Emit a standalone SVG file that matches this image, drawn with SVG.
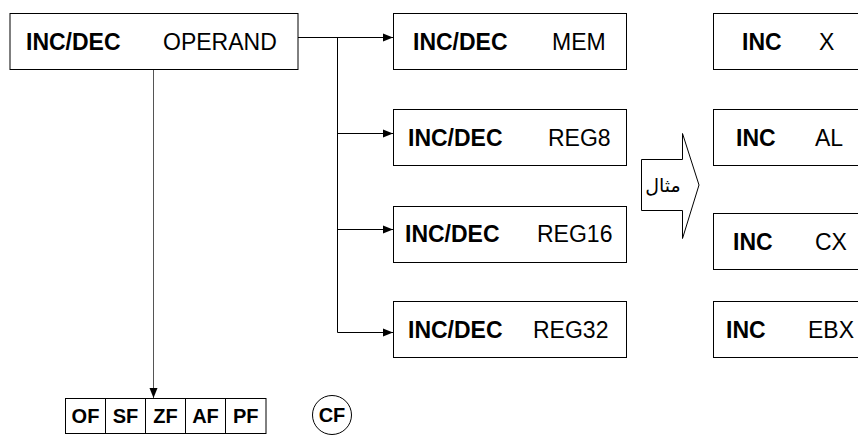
<svg xmlns="http://www.w3.org/2000/svg" width="858" height="448" viewBox="0 0 858 448">
<style>
.box{fill:#fff;stroke:#000;stroke-width:1}
.b{font-family:"Liberation Sans",Arial,sans-serif;font-weight:bold;font-size:23px;fill:#000}
.r{font-family:"Liberation Sans",Arial,sans-serif;font-size:23px;fill:#000}
.f{font-family:"Liberation Sans",Arial,sans-serif;font-weight:bold;font-size:20px;fill:#000;text-anchor:middle}
.ln{fill:none;stroke:#000;stroke-width:1}
.ar{font-family:"DejaVu Sans","Noto Sans",sans-serif;font-size:19px;fill:#000;text-anchor:middle}
</style>
<defs>
<marker id="ah" markerUnits="userSpaceOnUse" markerWidth="10" markerHeight="10" viewBox="0 0 10 10" refX="10" refY="5" orient="auto">
<path d="M0,1 L10,5 L0,9 Z" fill="#000"/>
</marker>
</defs>
<rect width="858" height="448" fill="#fff"/>
<g id="connectors">
<path class="ln" d="M298,37.5 H393" marker-end="url(#ah)"/>
<path class="ln" d="M337.5,37.5 V332.5"/>
<path class="ln" d="M337.5,133.5 H393" marker-end="url(#ah)"/>
<path class="ln" d="M337.5,229.5 H393" marker-end="url(#ah)"/>
<path class="ln" d="M337.5,332.5 H393" marker-end="url(#ah)"/>
<path d="M153.5,69 V398" stroke="#555" stroke-width="1" fill="none" marker-end="url(#ah)"/>
</g>
<g id="main">
<rect class="box" x="10" y="13.5" width="288" height="56"/>
<text class="b" x="26" y="50">INC/DEC</text>
<text class="r" x="163" y="50">OPERAND</text>
</g>
<g id="mem">
<rect class="box" x="393.5" y="13.5" width="233" height="56"/>
<text class="b" x="413" y="50">INC/DEC</text>
<text class="r" x="552" y="50">MEM</text>
</g>
<g id="reg8">
<rect class="box" x="393.5" y="109.5" width="233" height="56"/>
<text class="b" x="408" y="146">INC/DEC</text>
<text class="r" x="548" y="146">REG8</text>
</g>
<g id="reg16">
<rect class="box" x="393.5" y="206.5" width="233" height="56"/>
<text class="b" x="405" y="242">INC/DEC</text>
<text class="r" x="537" y="242">REG16</text>
</g>
<g id="reg32">
<rect class="box" x="393.5" y="301.5" width="233" height="56"/>
<text class="b" x="408" y="338">INC/DEC</text>
<text class="r" x="533" y="338">REG32</text>
</g>
<g id="example-arrow">
<path class="ln" d="M641.5,159.5 H682.5 V133.5 L699,185 L682.5,238.5 V210.5 H641.5 Z" fill="#fff"/>
<text class="ar" x="663" y="192" direction="rtl">مثال</text>
</g>
<g id="inc-x">
<rect class="box" x="713.5" y="13.5" width="160" height="56"/>
<text class="b" x="742" y="50">INC</text>
<text class="r" x="819" y="50">X</text>
</g>
<g id="inc-al">
<rect class="box" x="713.5" y="109.5" width="160" height="56"/>
<text class="b" x="736" y="146">INC</text>
<text class="r" x="815" y="146">AL</text>
</g>
<g id="inc-cx">
<rect class="box" x="713.5" y="213.5" width="160" height="56"/>
<text class="b" x="733" y="250">INC</text>
<text class="r" x="815" y="250">CX</text>
</g>
<g id="inc-ebx">
<rect class="box" x="713.5" y="301.5" width="160" height="56"/>
<text class="b" x="726" y="338">INC</text>
<text class="r" x="808" y="338">EBX</text>
</g>
<g id="flags">
<rect class="box" x="65.5" y="398.5" width="40" height="35"/>
<rect class="box" x="105.5" y="398.5" width="40" height="35"/>
<rect class="box" x="145.5" y="398.5" width="40" height="35"/>
<rect class="box" x="185.5" y="398.5" width="40" height="35"/>
<rect class="box" x="225.5" y="398.5" width="40.5" height="35"/>
<text class="f" x="85.5" y="423">OF</text>
<text class="f" x="125.5" y="423">SF</text>
<text class="f" x="165.5" y="423">ZF</text>
<text class="f" x="205.5" y="423">AF</text>
<text class="f" x="245.7" y="423">PF</text>
</g>
<g id="cf">
<circle cx="332" cy="415" r="19.5" fill="#fff" stroke="#000" stroke-width="1"/>
<text class="f" x="332" y="422">CF</text>
</g>
</svg>
